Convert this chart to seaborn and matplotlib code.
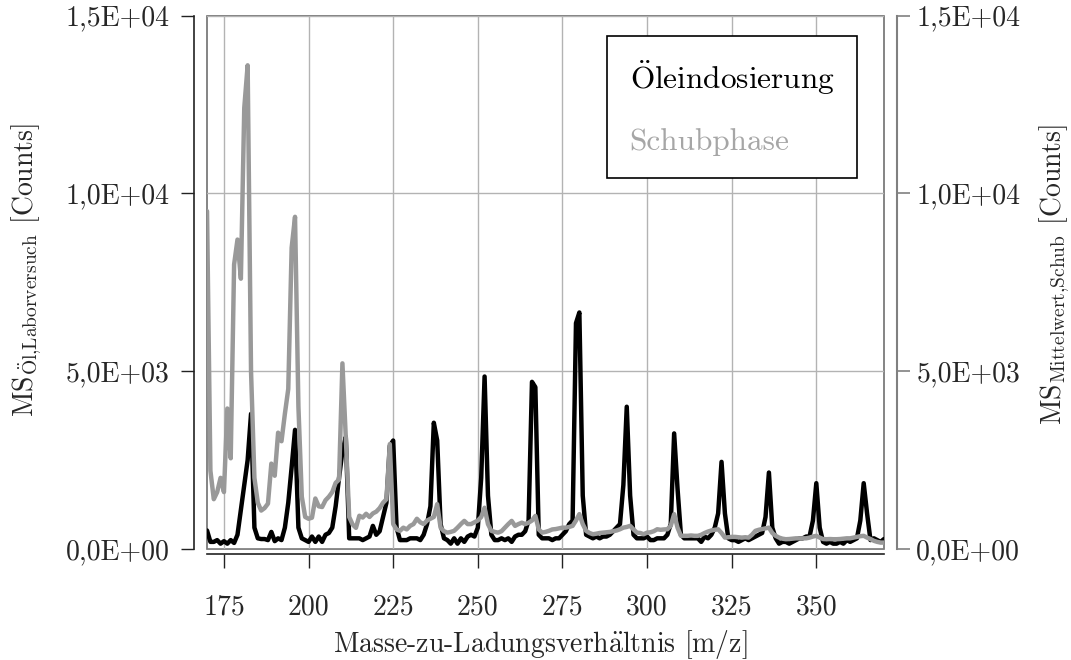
import numpy as np
import pandas as pd
import matplotlib
matplotlib.use("Agg")
import matplotlib.pyplot as plt
import seaborn as sns
from matplotlib.patches import Rectangle
from matplotlib.lines import Line2D

# m/z 170 ... 370, one value per unit
MZ_START = 170

oel = [
    520, 200, 200, 250, 150, 220, 150, 250, 170, 400,
    1100, 1800, 2500, 3800, 600, 300, 280, 280, 250, 480,
    220, 300, 250, 600, 1300, 2300, 3350, 600, 300, 250,
    200, 350, 200, 350, 200, 400, 450, 600, 1200, 2000,
    2750, 3150, 300, 300, 300, 300, 250, 300, 350, 650,
    400, 500, 900, 1300, 2900, 3050, 600, 250, 250, 250,
    300, 300, 300, 250, 400, 700, 1200, 3550, 3050, 700,
    300, 250, 150, 300, 150, 300, 200, 350, 400, 350,
    600, 2000, 4850, 1500, 400, 250, 250, 300, 250, 300,
    200, 350, 400, 400, 500, 800, 4700, 4550, 400, 300,
    300, 300, 250, 300, 300, 400, 500, 700, 800, 6350,
    6650, 1500, 400, 350, 300, 350, 300, 350, 350, 400,
    500, 600, 700, 1800, 4000, 1500, 400, 300, 300, 300,
    350, 250, 250, 300, 300, 300, 400, 700, 3250, 1700,
    400, 300, 300, 300, 300, 300, 200, 350, 300, 400,
    600, 1000, 2450, 1000, 300, 250, 250, 200, 250, 300,
    250, 300, 350, 400, 450, 900, 2150, 600, 300, 150,
    200, 200, 150, 200, 250, 300, 300, 350, 350, 800,
    1850, 600, 200, 150, 200, 150, 150, 200, 150, 250,
    200, 250, 300, 800, 1850, 1000, 250, 300, 250, 200,
    280,
]

schub = [
    9500, 2200, 1400, 1600, 2000, 1600, 3950, 2550, 8000, 8700,
    7600, 12400, 13600, 5000, 2000, 1300, 1080, 1150, 1275, 2400,
    2060, 3270, 3030, 3800, 4500, 8470, 9340, 4000, 1470, 900,
    850, 880, 1420, 1200, 1180, 1370, 1470, 1600, 1860, 1950,
    5220, 3130, 900, 690, 595, 935, 885, 990, 900, 1000,
    1050, 1150, 1300, 1400, 2950, 700, 550, 510, 600, 550,
    650, 700, 850, 750, 700, 800, 850, 900, 1260, 600,
    500, 460, 480, 510, 600, 700, 790, 700, 700, 750,
    800, 900, 1160, 700, 510, 480, 460, 500, 600, 700,
    790, 650, 700, 740, 700, 740, 800, 930, 550, 460,
    480, 510, 550, 560, 580, 600, 600, 620, 650, 800,
    980, 700, 510, 450, 415, 430, 450, 460, 470, 480,
    500, 520, 555, 600, 620, 650, 550, 460, 450, 415,
    460, 470, 500, 555, 540, 550, 555, 650, 980, 600,
    370, 370, 370, 380, 370, 370, 400, 450, 490, 520,
    540, 555, 450, 320, 330, 340, 340, 330, 320, 330,
    320, 400, 510, 540, 560, 580, 600, 450, 370, 320,
    290, 275, 280, 290, 300, 300, 300, 300, 320, 350,
    370, 320, 280, 275, 280, 275, 275, 280, 290, 300,
    300, 320, 340, 360, 370, 320, 280, 230, 200, 180,
    180,
]

x_ticks = [175, 200, 225, 250, 275, 300, 325, 350]
x_tick_labels = ["175", "200", "225", "250", "275", "300", "325", "350"]
y_ticks = [0, 5000, 10000, 15000]
y_tick_labels = ["0,0E+00", "5,0E+03", "1,0E+04", "1,5E+04"]
legend_labels = [r"$\ddot{\mathrm{O}}$leindosierung", "Schubphase"]

sns.set_style("white")
plt.rcParams["font.family"] = ["cmr10", "DejaVu Serif"]
plt.rcParams["mathtext.fontset"] = "cm"
plt.rcParams["axes.unicode_minus"] = False
plt.rcParams["font.size"] = 20

df = pd.DataFrame({"mz": np.arange(MZ_START, MZ_START + len(oel)),
                   "oel": oel, "schub": schub})

fig = plt.figure(figsize=(10.71, 6.6), dpi=100)
ax = fig.add_axes([0.1933, 0.1682, 0.6321, 0.8083])

sns.lineplot(data=df, x="mz", y="oel", ax=ax, color="black", lw=3.2,
             legend=False)
ax2 = ax.twinx()
sns.lineplot(data=df, x="mz", y="schub", ax=ax2, color="#999999", lw=3.2,
             legend=False)

for a in (ax, ax2):
    a.set_xlim(170, 370)
    a.set_ylim(0, 15000)
    a.set_yticks(y_ticks)
    a.set_yticklabels(y_tick_labels)

ax.set_xticks(x_ticks)
ax.set_xticklabels(x_tick_labels)
ax.grid(True, color="#b3b3b3", lw=1)
ax2.grid(False)

# spines, offset outward like the original
ax.spines["top"].set_visible(False)
ax.spines["right"].set_visible(False)
ax.spines["left"].set_position(("outward", 9.4))
ax.spines["bottom"].set_position(("outward", 3.6))
ax.spines["left"].set_color("#222222")
ax.spines["bottom"].set_color("#222222")
ax.spines["left"].set_linewidth(1.2)
ax.spines["bottom"].set_linewidth(1.2)
for s in ["left", "top", "bottom"]:
    ax2.spines[s].set_visible(False)
ax2.spines["right"].set_position(("outward", 9.4))
ax2.spines["right"].set_color("#808080")
ax2.spines["right"].set_linewidth(1.5)

ax.tick_params(axis="y", left=True, direction="out", length=9.4, width=1.0,
               pad=8, labelsize=20, color="#222222")
ax.tick_params(axis="x", bottom=True, direction="out", length=10, width=1.0,
               pad=19, labelsize=20, color="#222222")
ax2.tick_params(axis="y", right=True, direction="out", length=9.4, width=1.2,
                pad=4.5, labelsize=20, color="#808080")

# plot box
ax.add_patch(Rectangle((0, 0), 1, 1, transform=ax.transAxes, fill=False,
                       edgecolor="#707070", lw=1.2, clip_on=False, zorder=0.5))

ax.set_xlabel(r"Masse-zu-Ladungsverh$\ddot{\mathrm{a}}$ltnis [m/z]", fontsize=20)
ax.xaxis.set_label_coords(0.492, -0.148)
ax.set_ylabel(r"MS$_{\mathrm{\ddot{O}l}{,}\mathrm{Laborversuch}}$ [Counts]",
              fontsize=20)
ax.yaxis.set_label_coords(-0.241, 0.523)
ax2.set_ylabel(r"MS$_{\mathrm{Mittelwert}{,}\mathrm{Schub}}$ [Counts]",
               fontsize=20)
ax2.yaxis.set_label_coords(1.2275, 0.514)

handles = [Line2D([], [], linestyle="none"), Line2D([], [], linestyle="none")]
leg = ax2.legend(handles, legend_labels, loc="upper right",
                 bbox_to_anchor=(857 / 1071, 1 - 36 / 660),
                 bbox_transform=fig.transFigure, frameon=True, fancybox=False,
                 edgecolor="black", framealpha=1, borderaxespad=0,
                 handlelength=0, handletextpad=0, borderpad=0.72,
                 labelspacing=0.98, labelcolor=["black", "#a6a6a6"],
                 fontsize=22.5)
leg.get_frame().set_linewidth(1.2)

fig.savefig("out.png", dpi=100)
plt.close(fig)
